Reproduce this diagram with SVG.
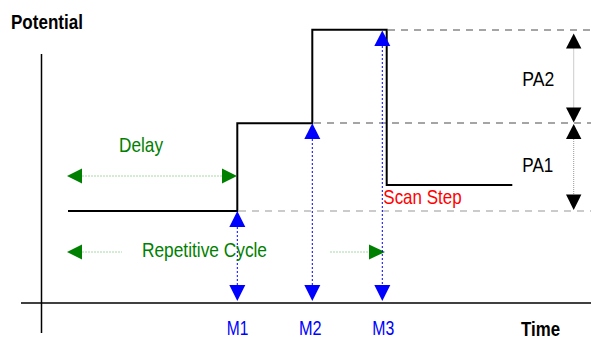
<svg xmlns="http://www.w3.org/2000/svg" width="591" height="339" viewBox="0 0 591 339">
<style>
text{font-family:"Liberation Sans",Arial,sans-serif;font-size:21px}
.b{font-weight:bold;fill:#000}
.g{fill:#008000}
.r{fill:#ff0000}
.bl{fill:#0000ff}
.k{fill:#000}
.axis{stroke:#000;stroke-width:1.5;fill:none}
.step{stroke:#000;stroke-width:2;fill:none}
.dash1{stroke:#888;stroke-width:1.5;stroke-dasharray:7 6;fill:none}
.dash2{stroke:#bbb;stroke-width:1.5;stroke-dasharray:7 6;fill:none}
.bdot{stroke:#0000ff;stroke-width:1;stroke-dasharray:2 2;fill:none}
.gdot{stroke:#a8d8a8;stroke-width:1;stroke-dasharray:2 1;fill:none}
.kdot{stroke:#999;stroke-width:1;stroke-dasharray:1 1;fill:none}
.bh{fill:#0000ff}
.gh{fill:#008000}
.kh{fill:#000}
</style>
<g id="axes">
<line class="axis" x1="41.5" y1="54" x2="41.5" y2="333"/>
<line class="axis" x1="21" y1="303" x2="591" y2="303"/>
</g>
<g id="guides">
<line class="dash1" x1="388" y1="30" x2="591" y2="30"/>
<line class="dash1" x1="314" y1="123" x2="591" y2="123"/>
<line class="dash2" x1="239" y1="211" x2="591" y2="211"/>
</g>
<g id="potential-step">
<path class="step" d="M68,211 H237.3 V123.3 H312.3 V29.7 H386.7 V185 H512.3"/>
</g>
<g id="connectors">
<g id="delay-arrow">
<line class="gdot" x1="82" y1="176" x2="222" y2="176"/>
<polygon class="gh" points="67,176 82,168.5 82,183.5"/>
<polygon class="gh" points="237,176 222,168.5 222,183.5"/>
</g>
<g id="cycle-arrow">
<line class="gdot" x1="82" y1="252" x2="122" y2="252"/>
<polygon class="gh" points="67,252 82,244.5 82,259.5"/>
<line class="gdot" x1="330" y1="252" x2="369" y2="252"/>
<polygon class="gh" points="385,252 369,244.5 369,259.5"/>
</g>
<g id="m1-arrow">
<line class="bdot" x1="237.3" y1="227" x2="237.3" y2="285"/>
<polygon class="bh" points="237.3,211 229.3,227 245.3,227"/>
<polygon class="bh" points="237.3,301 229.3,285 245.3,285"/>
</g>
<g id="m2-arrow">
<line class="bdot" x1="312.3" y1="139" x2="312.3" y2="285"/>
<polygon class="bh" points="312.3,123.3 304.3,139 320.3,139"/>
<polygon class="bh" points="312.3,301 304.3,285 320.3,285"/>
</g>
<g id="m3-arrow">
<line class="bdot" x1="382.3" y1="46" x2="382.3" y2="285"/>
<polygon class="bh" points="382.3,30.5 374.3,46 390.3,46"/>
<polygon class="bh" points="382.3,301 374.3,285 390.3,285"/>
</g>
<g id="pa2-arrow">
<line class="kdot" x1="573.7" y1="48.5" x2="573.7" y2="107.5"/>
<polygon class="kh" points="573.7,33.5 566,48.5 581.4,48.5"/>
<polygon class="kh" points="573.7,122.5 566,107.5 581.4,107.5"/>
</g>
<g id="pa1-arrow">
<line class="kdot" x1="573.7" y1="139" x2="573.7" y2="194.5"/>
<polygon class="kh" points="573.7,124 566,139 581.4,139"/>
<polygon class="kh" points="573.7,210 566,194.5 581.4,194.5"/>
</g>
</g>
<g id="label-potential"><text class="b" x="11" y="29" textLength="72" lengthAdjust="spacingAndGlyphs">Potential</text></g>
<g id="label-time"><text class="b" x="521" y="336" textLength="39" lengthAdjust="spacingAndGlyphs">Time</text></g>
<g id="label-delay"><text class="g" x="119" y="152.3" textLength="44" lengthAdjust="spacingAndGlyphs">Delay</text></g>
<g id="label-cycle"><text class="g" x="142" y="257.3" textLength="125" lengthAdjust="spacingAndGlyphs">Repetitive Cycle</text></g>
<g id="label-scan"><text class="r" x="383.3" y="204" textLength="78.4" lengthAdjust="spacingAndGlyphs">Scan Step</text></g>
<g id="label-pa2"><text class="k" x="522.3" y="85.6" textLength="32" lengthAdjust="spacingAndGlyphs">PA2</text></g>
<g id="label-pa1"><text class="k" x="522.3" y="171.6" textLength="31" lengthAdjust="spacingAndGlyphs">PA1</text></g>
<g id="label-m1"><text class="bl" x="226.7" y="335" textLength="21.6" lengthAdjust="spacingAndGlyphs">M1</text></g>
<g id="label-m2"><text class="bl" x="299" y="335" textLength="22.7" lengthAdjust="spacingAndGlyphs">M2</text></g>
<g id="label-m3"><text class="bl" x="372.3" y="335" textLength="22" lengthAdjust="spacingAndGlyphs">M3</text></g>
</svg>
